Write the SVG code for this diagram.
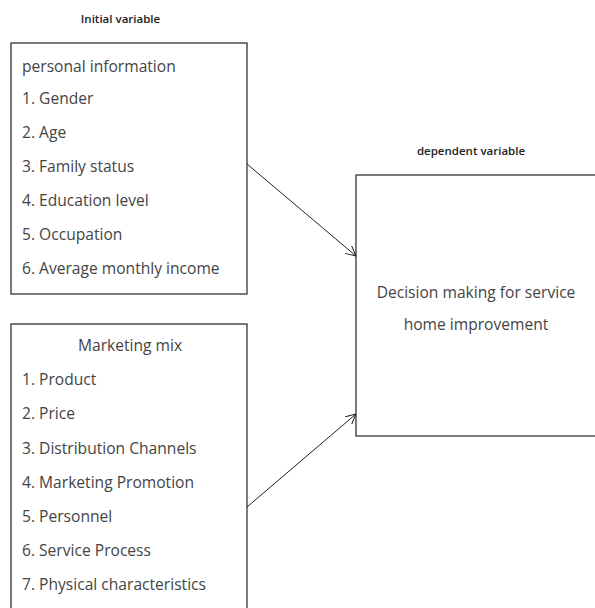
<svg xmlns="http://www.w3.org/2000/svg" width="595" height="608" viewBox="0 0 595 608">
<defs>
<marker id="arr" viewBox="0 0 10 10" refX="10" refY="5" markerWidth="10" markerHeight="10" markerUnits="userSpaceOnUse" orient="auto">
<path d="M0,0 L10,5 L0,10" fill="none" stroke="#222" stroke-width="1"/>
</marker>
<style>
.box{fill:#fff;stroke:#222;stroke-width:1.2}
.t{font-family:"Open Sans","Liberation Sans",sans-serif;font-size:15.6px;fill:#444}
.h{font-family:"Open Sans","Liberation Sans",sans-serif;font-size:11.5px;font-weight:600;fill:#222}
.c{stroke:#222;stroke-width:1;fill:none}
</style>
</defs>
<rect width="595" height="608" fill="#fff"/>
<text class="h" x="120.5" y="23" text-anchor="middle">Initial variable</text>
<text class="h" x="471" y="155" text-anchor="middle">dependent variable</text>
<g id="personal">
<rect class="box" x="11" y="43" width="236" height="251"/>
<text class="t" x="22" y="72">personal information</text>
<text class="t" x="22" y="104">1. Gender</text>
<text class="t" x="22" y="138">2. Age</text>
<text class="t" x="22" y="172">3. Family status</text>
<text class="t" x="22" y="206">4. Education level</text>
<text class="t" x="22" y="240">5. Occupation</text>
<text class="t" x="22" y="274">6. Average monthly income</text>
</g>
<g id="marketing">
<rect class="box" x="11" y="324" width="236" height="300"/>
<text class="t" x="130" y="351" text-anchor="middle">Marketing mix</text>
<text class="t" x="22" y="385">1. Product</text>
<text class="t" x="22" y="419">2. Price</text>
<text class="t" x="22" y="454">3. Distribution Channels</text>
<text class="t" x="22" y="488">4. Marketing Promotion</text>
<text class="t" x="22" y="522">5. Personnel</text>
<text class="t" x="22" y="556">6. Service Process</text>
<text class="t" x="22" y="590">7. Physical characteristics</text>
</g>
<g id="decision">
<rect class="box" x="356" y="175" width="260" height="261"/>
<text class="t" x="476" y="298" text-anchor="middle">Decision making for service</text>
<text class="t" x="476" y="330" text-anchor="middle">home improvement</text>
</g>
<g id="connectors">
<line class="c" x1="247" y1="164" x2="356" y2="256" marker-end="url(#arr)"/>
<line class="c" x1="247" y1="507" x2="356" y2="414" marker-end="url(#arr)"/>
</g>
</svg>
